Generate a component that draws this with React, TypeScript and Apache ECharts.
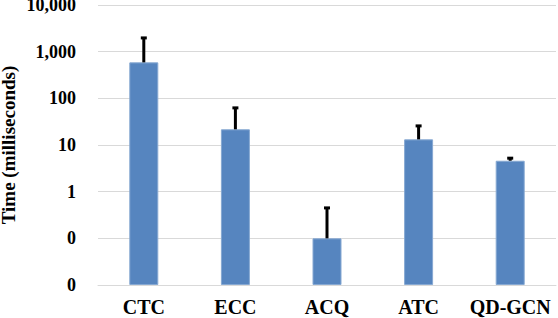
import React, { useEffect, useRef } from "react";
import * as echarts from "echarts";

const categories = ["CTC", "ECC", "ACQ", "ATC", "QD-GCN"];
const meanTimes = [590, 21.7, 0.1, 13.2, 4.6];
const errorPlus = [1430, 42.3, 0.36, 13.1, 0.75];
const yMin = 0.01;
const yMax = 10000;

const FONT = "'Liberation Serif', 'Times New Roman', serif";

export default function App() {
  const ref = useRef<HTMLDivElement>(null);
  useEffect(() => {
    if (!ref.current) return;
    const chart = echarts.init(ref.current, null, { renderer: "svg" });
    const errData = meanTimes.map((m, i) => [i, m, m + errorPlus[i]]);
    chart.setOption({
      animation: false,
      backgroundColor: "#ffffff",
      grid: {
        left: 98,
        right: 2,
        top: 5,
        bottom: 33,
        containLabel: false,
        outerBoundsMode: "none",
      },
      xAxis: {
        type: "category",
        data: categories,
        axisLine: { show: true, lineStyle: { color: "#d9d9d9", width: 1 } },
        axisTick: { show: false },
        axisLabel: {
          interval: 0,
          margin: 12,
          fontFamily: FONT,
          fontWeight: "bold",
          fontSize: 20,
          color: "#000000",
        },
      },
      yAxis: {
        type: "log",
        logBase: 10,
        min: yMin,
        max: yMax,
        startValue: yMin,
        name: "Time (milliseconds)",
        nameLocation: "middle",
        nameGap: 81,
        nameMoveOverlap: false,
        nameRotate: 90,
        nameTextStyle: {
          fontFamily: FONT,
          fontWeight: "bold",
          fontSize: 19,
          lineHeight: 18,
          color: "#000000",
        },
        axisLine: { show: false },
        axisTick: { show: false },
        splitLine: { show: true, lineStyle: { color: "#d9d9d9", width: 1 } },
        axisLabel: {
          margin: 22,
          fontFamily: FONT,
          fontWeight: "bold",
          fontSize: 18,
          lineHeight: 12,
          padding: [7, 0, 0, 0],
          color: "#000000",
          formatter: (v: number) => Math.round(v).toLocaleString("en-US"),
        },
      },
      series: [
        {
          type: "bar",
          data: meanTimes,
          barWidth: 29,
          itemStyle: { color: "#5685BF", borderColor: "#86a8d2", borderWidth: 1 },
        },
        {
          type: "custom",
          data: errData,
          z: 5,
          renderItem: (params: any, api: any) => {
            const i = api.value(0);
            const lo = api.coord([i, api.value(1)]);
            const hi = api.coord([i, api.value(2)]);
            return {
              type: "group",
              children: [
                {
                  type: "line",
                  shape: { x1: lo[0], y1: lo[1], x2: hi[0], y2: hi[1] + 1 },
                  style: { stroke: "#000000", lineWidth: 3 },
                },
                {
                  type: "rect",
                  shape: { x: hi[0] - 3, y: hi[1] - 1, width: 6, height: 3 },
                  style: { fill: "#000000" },
                },
              ],
            };
          },
        },
      ],
    });
    return () => chart.dispose();
  }, []);
  return (
    <div
      ref={ref}
      style={{ position: "fixed", left: 0, top: 0, width: 558, height: 318 }}
    />
  );
}
